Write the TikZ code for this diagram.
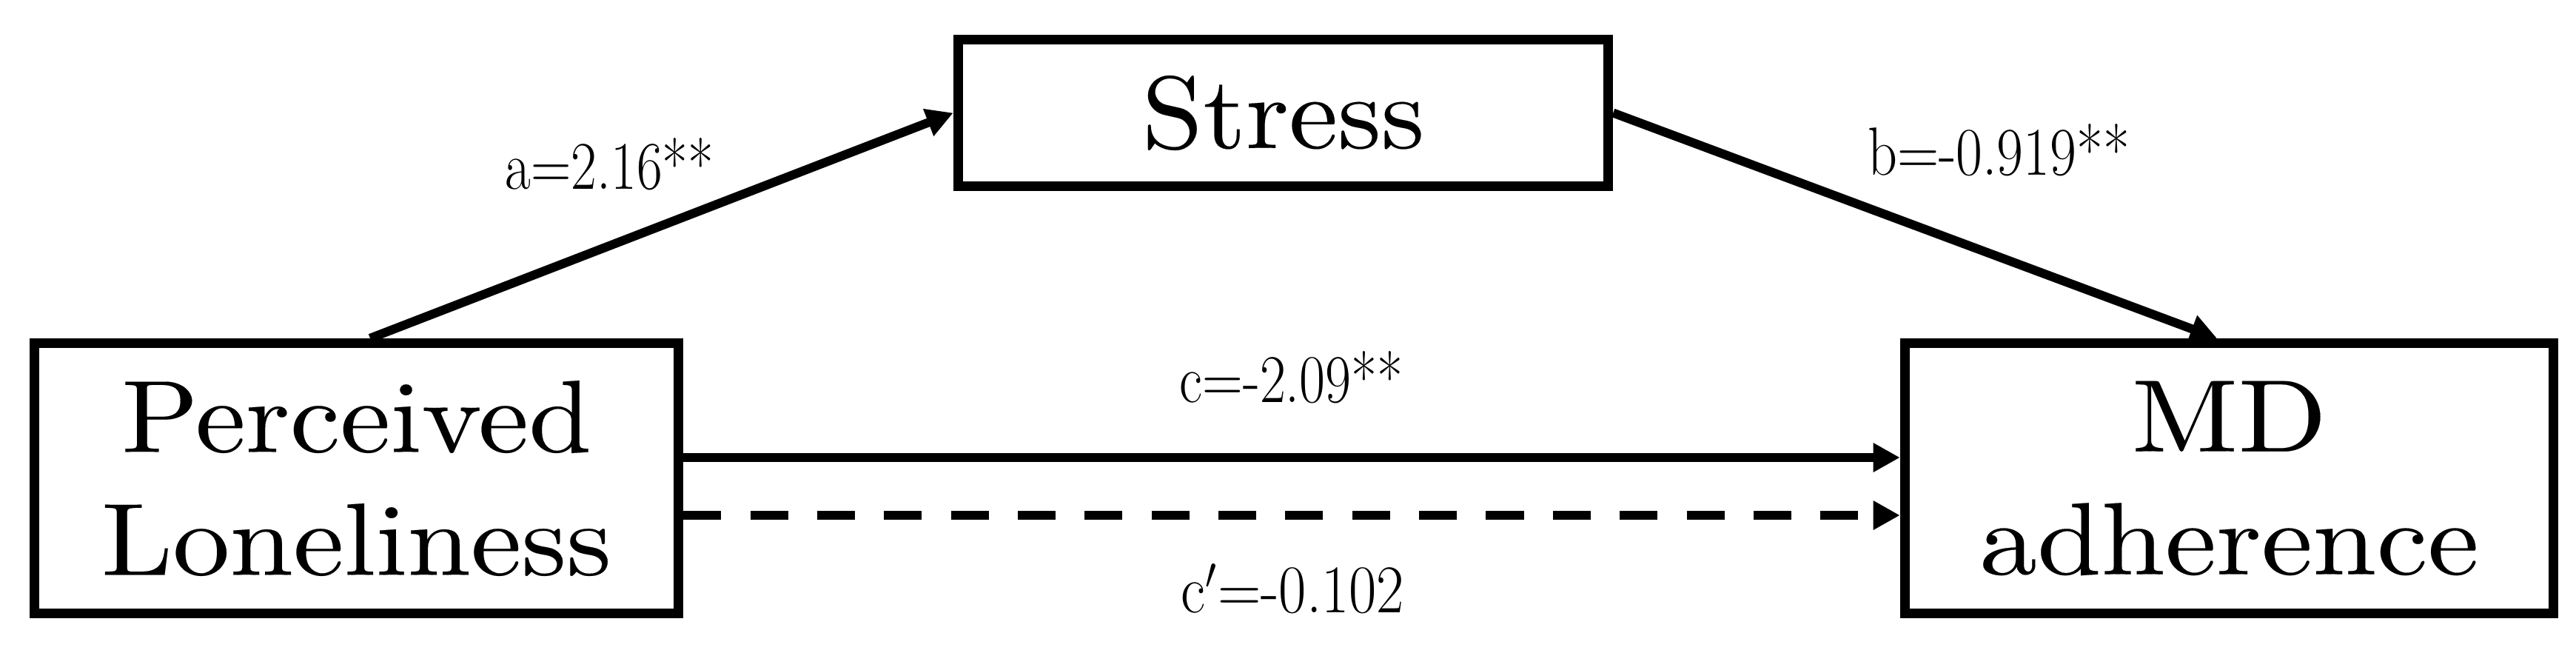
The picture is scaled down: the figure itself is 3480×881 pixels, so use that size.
\documentclass[tikz,border=0pt]{standalone}
\usepackage{graphicx}
\usepackage{fontspec}
\newfontfamily\boxfont{lmroman10-regular}[Extension=.otf, FakeBold=0.12]
\usetikzlibrary{arrows.meta,calc}
\newcommand{\wx}[2]{\scalebox{#1}[1]{#2}}
\tikzset{
  box/.style={draw=black, line width=0.13cm, inner sep=0pt, align=center,
    font=\boxfont\fontsize{39.5pt}{47.2pt}\selectfont},
  lbl/.style={anchor=base, inner sep=0pt, font=\fontsize{26.2pt}{30pt}\selectfont},
  conn/.style={line width=0.12cm, -{Triangle[length=0.36cm,width=0.37cm]}},
  dashconn/.style={conn, dash pattern=on 0.51cm off 0.393cm},
}
\begin{document}
\begin{tikzpicture}[x=0.01cm,y=-0.01cm]
\useasboundingbox (0,0) rectangle (3480,881);
\node[box, minimum width=8.70cm, minimum height=3.65cm] (L) at (481.5,646) {\wx{1.10}{Perceived}\\\wx{1.11}{Loneliness}};
\node[box, minimum width=8.76cm, minimum height=3.65cm] (R) at (3011.5,646) {\wx{1.13}{MD}\\\wx{1.12}{adherence}};
\node[box, minimum width=8.78cm, minimum height=1.98cm] (S) at (1733.5,152.5) {\wx{1.07}{Stress}};
\coordinate (ysolid) at (0,618);
\coordinate (ydash) at (0,696);
\draw[conn] ([xshift=0.185cm]L.north) -- (S.west);
\draw[conn] (S.east) -- ([xshift=-0.165cm]R.north);
\draw[conn] (L.east |- ysolid) -- (R.west |- ysolid);
\draw[dashconn] (L.east |- ydash) -- (R.west |- ydash);
\node[lbl] (la) at (823.5,255) {\wx{0.82}{a=2.16**}};
\node[lbl] (lb) at (2700,236) {\wx{0.846}{b=-0.919**}};
\node[lbl] (lc) at (1744.5,543) {\wx{0.825}{c=-2.09**}};
\node[lbl] (lcp) at (1746.5,827) {\wx{0.88}{c$'$=-0.102}};
\end{tikzpicture}
\end{document}
